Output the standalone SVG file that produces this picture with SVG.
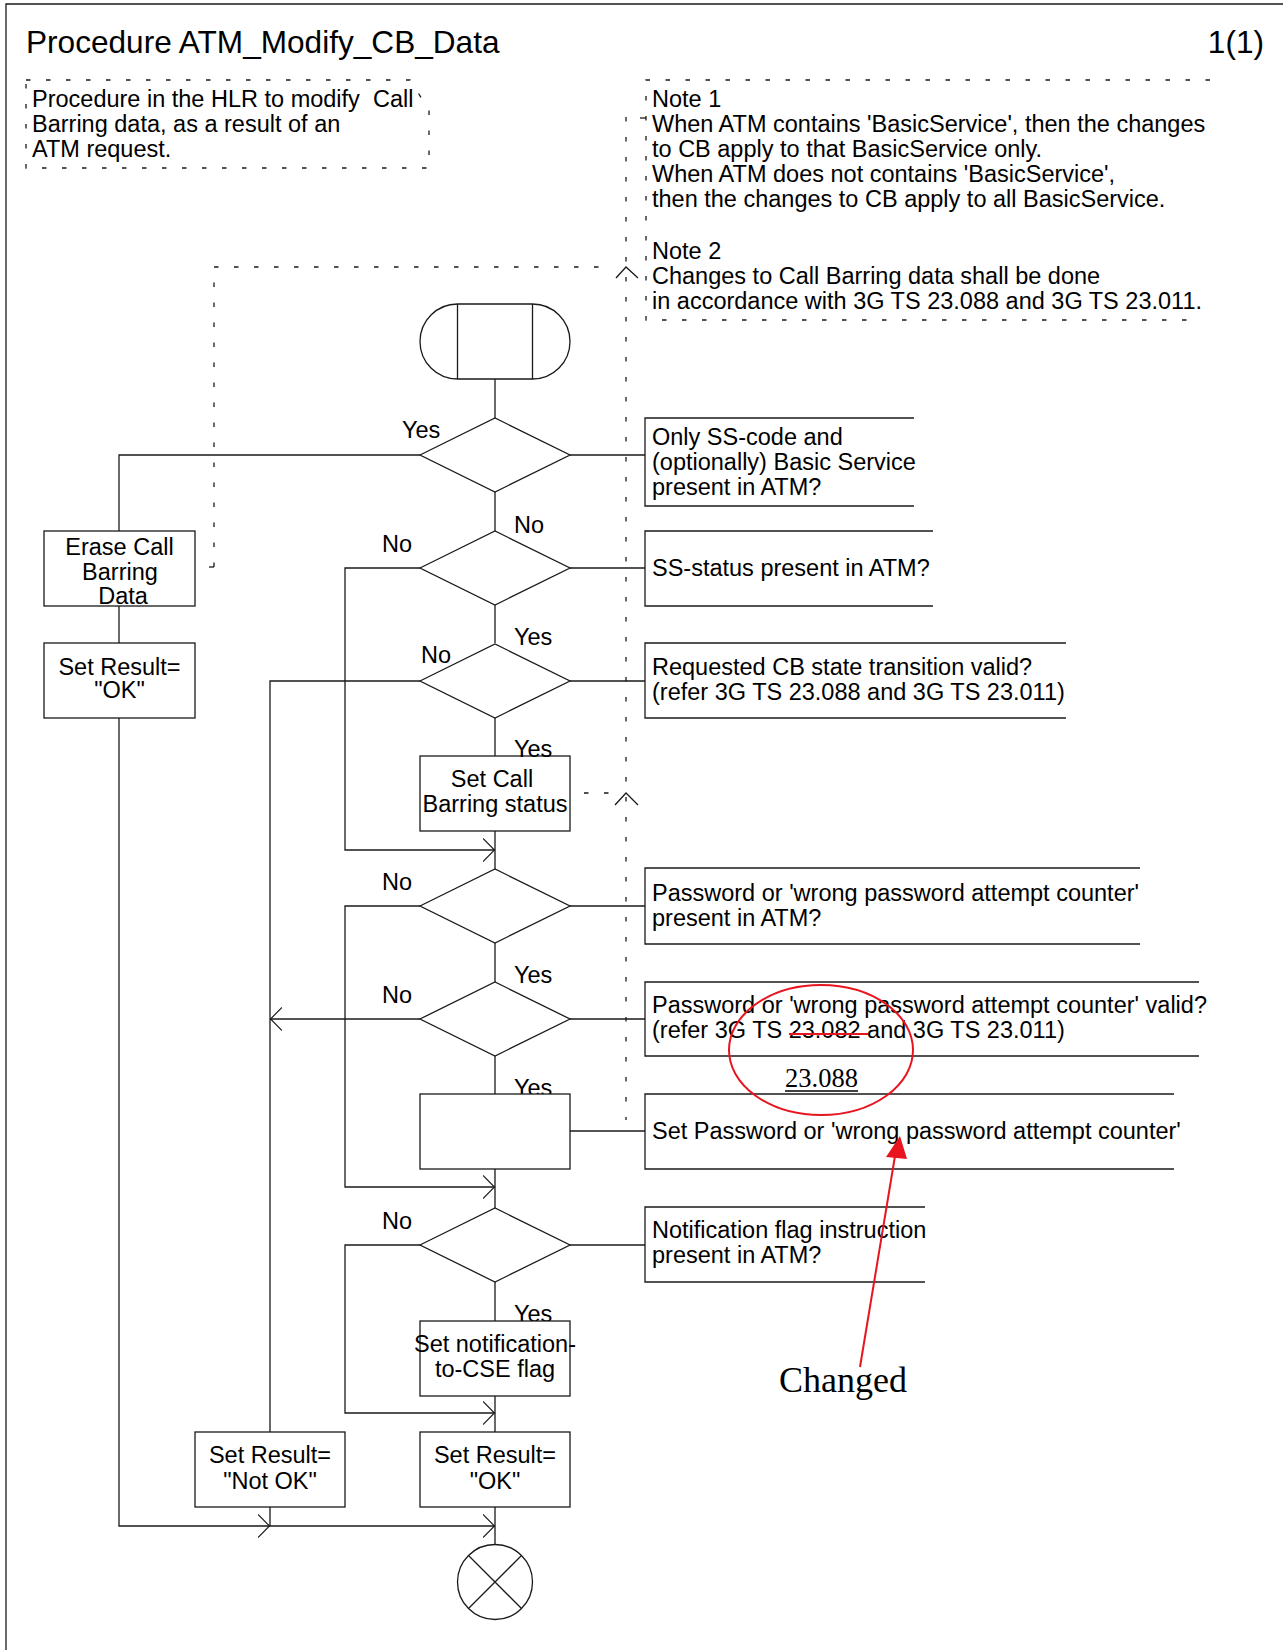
<svg xmlns="http://www.w3.org/2000/svg" width="1283" height="1650" viewBox="0 0 1283 1650">
<style>
  .ln { fill: none; stroke: #1a1a1a; stroke-width: 1.3; }
  .sym { fill: #fff; stroke: #1a1a1a; stroke-width: 1.3; }
  .dash { fill: none; stroke: #1a1a1a; stroke-width: 1.3; stroke-dasharray: 4.5 15.5; }
  .t { font-family: "Liberation Sans", Arial, sans-serif; font-size: 23.5px; fill: #000; }
  .c { text-anchor: middle; }
  .title { font-family: "Liberation Sans", Arial, sans-serif; font-size: 31.6px; fill: #000; }
  .red { fill: none; stroke: #e8141e; stroke-width: 2; }
  .serif { font-family: "Liberation Serif", "Times New Roman", serif; fill: #000; }
</style>
<defs>
  <marker id="open" viewBox="0 0 12 24" refX="12" refY="12" markerWidth="12" markerHeight="24" markerUnits="userSpaceOnUse" orient="auto">
    <path d="M0,0.5 L11.5,12 L0,23.5" fill="none" stroke="#1a1a1a" stroke-width="1.2"/>
  </marker>
</defs>

<g id="frame">
  <path class="ln" d="M6,1650 V4 H1283" stroke-width="1.6"/>
  <text class="title" x="26" y="53">Procedure ATM_Modify_CB_Data</text>
  <text class="title" x="1264" y="53" text-anchor="end">1(1)</text>
</g>

<g id="comment-procedure">
  <path class="dash" d="M26,80 H410 L429,110 V168 H26 Z"/>
  <text class="t" x="32" y="107" xml:space="preserve">Procedure in the HLR to modify  Call</text>
  <text class="t" x="32" y="132">Barring data, as a result of an</text>
  <text class="t" x="32" y="157">ATM request.</text>
</g>

<g id="notes">
  <path class="dash" d="M1210,80 H646 V320 H1197"/>
  <path class="ln" d="M640,118 H646" stroke-width="1"/>
  <text class="t" x="652" y="107">Note 1</text>
  <text class="t" x="652" y="132">When ATM contains 'BasicService', then the changes</text>
  <text class="t" x="652" y="157">to CB apply to that BasicService only.</text>
  <text class="t" x="652" y="182">When ATM does not contains 'BasicService',</text>
  <text class="t" x="652" y="207">then the changes to CB apply to all BasicService.</text>
  <text class="t" x="652" y="259">Note 2</text>
  <text class="t" x="652" y="284">Changes to Call Barring data shall be done</text>
  <text class="t" x="652" y="309">in accordance with 3G TS 23.088 and 3G TS 23.011.</text>
</g>

<g id="connectors">
  <!-- dashed comment attachments -->
  <path class="dash" d="M626,117 V1120"/>
  <path class="ln" d="M209,567 H214" stroke-width="1"/>
  <path class="dash" d="M214,567 V267 H614"/>
  <polyline class="ln" points="616,278 626,267 638,278" stroke-width="1"/>
  <path class="dash" d="M584,793 H614"/>
  <polyline class="ln" points="615,805 626,793 638,805" stroke-width="1"/>

  <!-- main flow -->
  <path class="ln" d="M495,379 V418"/>
  <path class="ln" d="M495,492 V531"/>
  <path class="ln" d="M420,455 H119 V531"/>
  <path class="ln" d="M570,455 H645"/>
  <path class="ln" d="M119,606 V643"/>
  <path class="ln" d="M119,718 V1526 H270" marker-end="url(#open)"/>
  <path class="ln" d="M270,1526 H495" marker-end="url(#open)"/>
  <path class="ln" d="M495,605 V643"/>
  <path class="ln" d="M420,568 H345 V850 H495" marker-end="url(#open)"/>
  <path class="ln" d="M570,568 H645"/>
  <path class="ln" d="M495,718 V756"/>
  <path class="ln" d="M420,681 H270 V1432"/>
  <path class="ln" d="M570,681 H645"/>
  <path class="ln" d="M495,831 V869"/>
  <path class="ln" d="M495,943 V982"/>
  <path class="ln" d="M420,906 H345 V1187 H495" marker-end="url(#open)"/>
  <path class="ln" d="M570,906 H645"/>
  <path class="ln" d="M420,1019 H270" marker-end="url(#open)"/>
  <path class="ln" d="M570,1019 H645"/>
  <path class="ln" d="M495,1056 V1094"/>
  <path class="ln" d="M495,1169 V1208"/>
  <path class="ln" d="M570,1131 H645"/>
  <path class="ln" d="M495,1282 V1321"/>
  <path class="ln" d="M420,1245 H345 V1413 H495" marker-end="url(#open)"/>
  <path class="ln" d="M570,1245 H645"/>
  <path class="ln" d="M495,1396 V1432"/>
  <path class="ln" d="M270,1507 V1526"/>
  <path class="ln" d="M495,1507 V1545"/>
</g>

<g id="start">
  <rect class="sym" x="420" y="304" width="150" height="75" rx="37.5" ry="37.5"/>
  <path class="ln" d="M457.5,304 V379 M532.5,304 V379"/>
</g>

<g id="dec-ss-code">
  <polygon class="sym" points="420,455 495,418 570,455 495,492"/>
  <text class="t" x="402" y="438">Yes</text>
  <text class="t" x="514" y="533">No</text>
  <path class="ln" d="M914,418 H645 V506 H914"/>
  <text class="t" x="652" y="445">Only SS-code and</text>
  <text class="t" x="652" y="470">(optionally) Basic Service</text>
  <text class="t" x="652" y="495">present in ATM?</text>
</g>

<g id="erase-cb">
  <rect class="sym" x="44" y="531" width="151" height="75"/>
  <text class="t c" x="119.5" y="555">Erase Call</text>
  <text class="t c" x="120" y="580">Barring</text>
  <text class="t c" x="123" y="604">Data</text>
</g>

<g id="set-result-ok-1">
  <rect class="sym" x="44" y="643" width="151" height="75"/>
  <text class="t c" x="119.5" y="675">Set Result=</text>
  <text class="t c" x="119.5" y="698">"OK"</text>
</g>

<g id="dec-ss-status">
  <polygon class="sym" points="420,568 495,531 570,568 495,605"/>
  <text class="t" x="382" y="552">No</text>
  <text class="t" x="514" y="645">Yes</text>
  <path class="ln" d="M933,531 H645 V606 H933"/>
  <text class="t" x="652" y="576">SS-status present in ATM?</text>
</g>

<g id="dec-transition">
  <polygon class="sym" points="420,681 495,644 570,681 495,718"/>
  <text class="t" x="421" y="663">No</text>
  <path class="ln" d="M1066,643 H645 V718 H1066"/>
  <text class="t" x="652" y="675">Requested CB state transition valid?</text>
  <text class="t" x="652" y="700">(refer 3G TS 23.088 and 3G TS 23.011)</text>
</g>

<g id="set-cb-status">
  <rect class="sym" x="420" y="756" width="150" height="75"/>
  <text class="t" x="514" y="757">Yes</text>
  <text class="t c" x="492" y="787">Set Call</text>
  <text class="t c" x="495" y="812">Barring status</text>
</g>

<g id="dec-pw-present">
  <polygon class="sym" points="420,906 495,869 570,906 495,943"/>
  <text class="t" x="382" y="890">No</text>
  <text class="t" x="514" y="983">Yes</text>
  <path class="ln" d="M1140,868 H645 V944 H1140"/>
  <text class="t" x="652" y="901">Password or 'wrong password attempt counter'</text>
  <text class="t" x="652" y="926">present in ATM?</text>
</g>

<g id="dec-pw-valid">
  <polygon class="sym" points="420,1019 495,982 570,1019 495,1056"/>
  <text class="t" x="382" y="1003">No</text>
  <text class="t" x="514" y="1096">Yes</text>
  <path class="ln" d="M1199,982 H645 V1056 H1199"/>
  <text class="t" x="652" y="1013">Password or 'wrong password attempt counter' valid?</text>
  <text class="t" x="652" y="1038">(refer 3G TS 23.082 and 3G TS 23.011)</text>
</g>

<g id="set-password">
  <rect class="sym" x="420" y="1094" width="150" height="75"/>
  <path class="ln" d="M1174,1094 H645 V1169 H1174"/>
  <text class="t" x="652" y="1139">Set Password or 'wrong password attempt counter'</text>
</g>

<g id="dec-notification">
  <polygon class="sym" points="420,1245 495,1208 570,1245 495,1282"/>
  <text class="t" x="382" y="1229">No</text>
  <text class="t" x="514" y="1322">Yes</text>
  <path class="ln" d="M925,1207 H645 V1282 H925"/>
  <text class="t" x="652" y="1238">Notification flag instruction</text>
  <text class="t" x="652" y="1263">present in ATM?</text>
</g>

<g id="set-notification">
  <rect class="sym" x="420" y="1321" width="150" height="75"/>
  <text class="t c" x="495" y="1352">Set notification-</text>
  <text class="t c" x="495" y="1377">to-CSE flag</text>
</g>

<g id="set-result-notok">
  <rect class="sym" x="195" y="1432" width="150" height="75"/>
  <text class="t c" x="270" y="1463">Set Result=</text>
  <text class="t c" x="270" y="1489">"Not OK"</text>
</g>

<g id="set-result-ok-2">
  <rect class="sym" x="420" y="1432" width="150" height="75"/>
  <text class="t c" x="495" y="1463">Set Result=</text>
  <text class="t c" x="495" y="1489">"OK"</text>
</g>

<g id="end">
  <circle class="sym" cx="495" cy="1582" r="37.5"/>
  <path class="ln" d="M468.5,1555.5 L521.5,1608.5 M521.5,1555.5 L468.5,1608.5"/>
</g>

<g id="change-mark">
  <line class="red" x1="789" y1="1034" x2="868" y2="1034"/>
  <ellipse class="red" cx="821" cy="1050" rx="92" ry="65"/>
  <text class="serif" x="785" y="1087" font-size="26.5">23.088</text>
  <line x1="785" y1="1091" x2="858" y2="1091" stroke="#000" stroke-width="1.5"/>
  <line class="red" x1="860" y1="1367" x2="896" y2="1150"/>
  <polygon points="900,1136 886,1157 907,1159" fill="#e8141e"/>
  <text class="serif" x="779" y="1392" font-size="36">Changed</text>
</g>
</svg>
